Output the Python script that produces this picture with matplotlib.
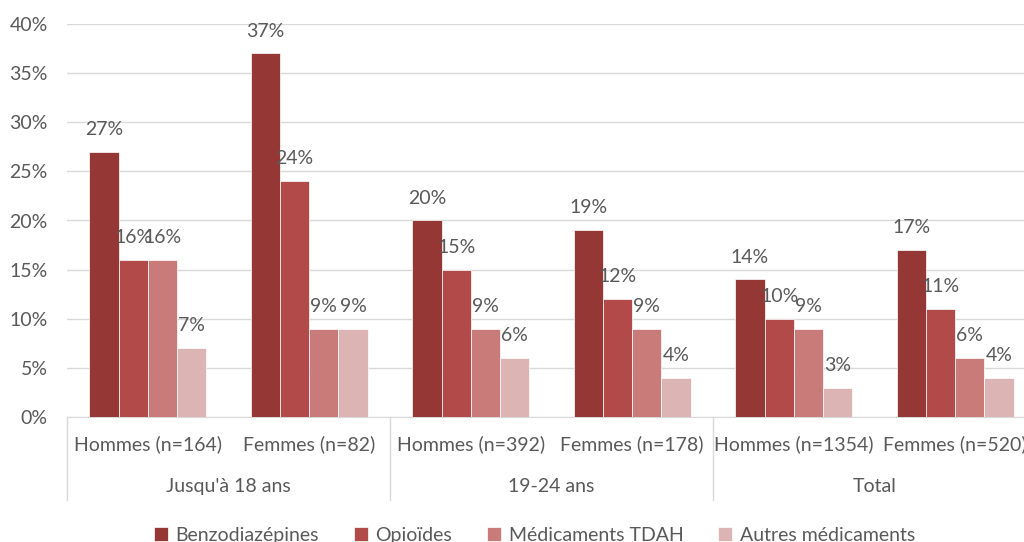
import matplotlib.pyplot as plt
import numpy as np
from matplotlib.transforms import blended_transform_factory

plt.rcParams['font.family'] = ['Lato', 'DejaVu Sans']

# data
sub_labels = ['Hommes (n=164)', 'Femmes (n=82)', 'Hommes (n=392)', 'Femmes (n=178)',
              'Hommes (n=1354)', 'Femmes (n=520)']
group_labels = ["Jusqu'à 18 ans", '19-24 ans', 'Total']
series_names = ['Benzodiazépines', 'Opioïdes', 'Médicaments TDAH', 'Autres médicaments']
benzo = [27, 37, 20, 19, 14, 17]
opio = [16, 24, 15, 12, 10, 11]
tdah = [16, 9, 9, 9, 9, 6]
autres = [7, 9, 6, 4, 3, 4]
colors = ['#953735', '#B14A48', '#C97B7A', '#DDB4B4']

text_col = '#595959'
grid_col = '#D9D9D9'
fs = 14

fig = plt.figure(figsize=(10.24, 5.42), dpi=100)
ax = fig.add_axes([67 / 1024, 125 / 542, 969 / 1024, 393 / 542])

x = np.arange(len(sub_labels))
width = 0.181
all_series = [benzo, opio, tdah, autres]
for i, vals in enumerate(all_series):
    pos = x - 1.5 * width + i * width
    ax.bar(pos, vals, width, color=colors[i], edgecolor='white', linewidth=0.5,
           label=series_names[i], zorder=3)
    for px, v in zip(pos, vals):
        ax.annotate(f'{v}%', (px, v), xytext=(0, 10), textcoords='offset points',
                    ha='center', va='bottom', fontsize=fs, color=text_col)

ax.set_xlim(-0.5, len(sub_labels) - 0.5)
ax.set_ylim(0, 40)
ax.set_yticks(range(0, 41, 5))
ax.set_yticklabels([f'{t}%' for t in range(0, 41, 5)])
ax.yaxis.grid(True, color=grid_col, linewidth=1, zorder=0)
ax.set_axisbelow(True)
for s in ['top', 'right', 'left']:
    ax.spines[s].set_visible(False)
ax.spines['bottom'].set_color(grid_col)
ax.tick_params(axis='y', length=0, labelsize=fs, labelcolor=text_col, pad=14)
ax.tick_params(axis='x', length=0)
ax.set_xticks(x)
ax.set_xticklabels(sub_labels, fontsize=fs, color=text_col)
ax.tick_params(axis='x', pad=13)

# group separators and labels
trans = blended_transform_factory(ax.transData, ax.transAxes)
for b in [-0.5, 1.5, 3.5, 5.5]:
    ax.plot([b, b], [0, -0.21], color=grid_col, linewidth=1, transform=trans, clip_on=False)
for g, lab in enumerate(group_labels):
    ax.text(2 * g + 0.5, -0.178, lab, transform=trans, ha='center', va='center',
            fontsize=fs, color=text_col)

fig.legend(loc='center', bbox_to_anchor=(0.522, 0.012), ncol=4, frameon=False,
           fontsize=fs, labelcolor=text_col, handlelength=0.7, handleheight=0.7,
           columnspacing=1.8, handletextpad=0.4)

fig.savefig('out.png', dpi=100)
